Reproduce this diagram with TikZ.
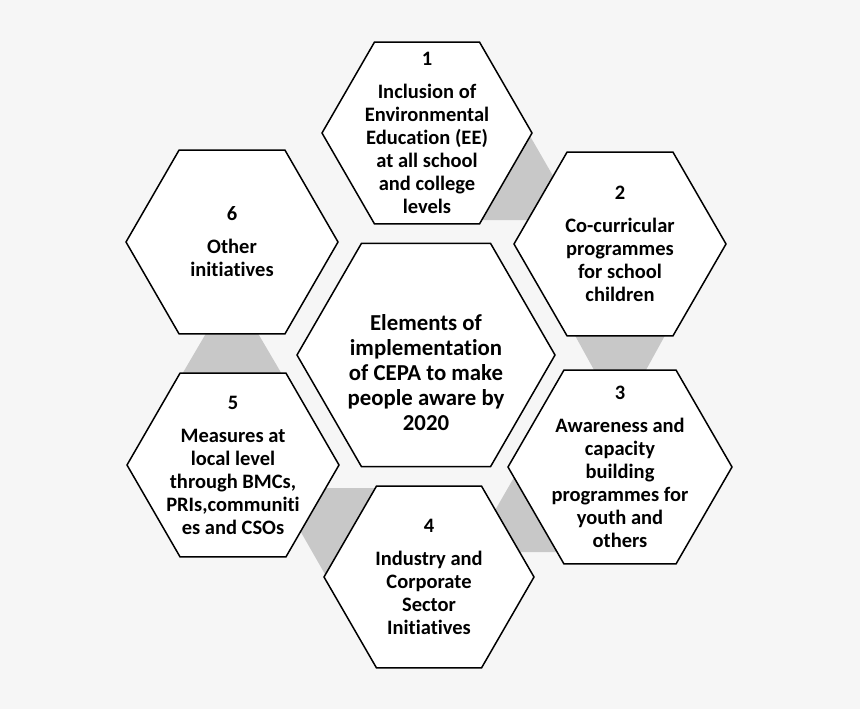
\documentclass[tikz,border=0pt]{standalone}
\usepackage{fontspec}
\setmainfont{Carlito}[Ligatures={NoCommon}]
\usetikzlibrary{shapes.geometric}
\definecolor{bg}{RGB}{246,246,246}
\definecolor{connc}{RGB}{200,200,200}
\begin{document}
\begin{tikzpicture}[x=1pt,y=-1pt,
 hexa/.style={regular polygon, regular polygon sides=6, draw=black, line width=1.5pt, fill=white, inner sep=0pt, outer sep=0pt},
 txt/.style={align=center, font=\fontsize{20.5}{23}\selectfont\bfseries, inner sep=0pt},
 ctxt/.style={align=center, font=\fontsize{22.8}{25}\selectfont\bfseries, inner sep=0pt},
 conn/.style={fill=connc, draw=none}]
\path[fill=bg] (0,0) rectangle (860,709);
\useasboundingbox (0,0) rectangle (860,709);
% connectors
\fill[conn] (530,136) -- (560,188) -- (560,220) -- (480,220) -- cycle;
\fill[conn] (572,330) -- (668,330) -- (646,370) -- (594,370) -- cycle;
\fill[conn] (208,330) -- (256,330) -- (283,376) -- (181,376) -- cycle;
\fill[conn] (290,488) -- (376,488) -- (326,576) -- (294,520) -- cycle;
\fill[conn] (516,474) -- (486,526) -- (505,552) -- (570,552) -- cycle;
% hexagons
\node[hexa, minimum size=210pt] (h1) at (427,133) {};
\node[hexa, minimum size=212pt] (h2) at (620,244) {};
\node[hexa, minimum size=224pt] (h3) at (620,467) {};
\node[hexa, minimum size=210pt] (h4) at (429,577) {};
\node[hexa, minimum size=212pt] (h5) at (233,465) {};
\node[hexa, minimum size=212pt] (h6) at (232,242) {};
\node[hexa, minimum size=258pt] (hc) at (426,355) {};
% texts
\node[txt] (t1) at (h1.center) {1\\[10pt]Inclusion of\\Environmental\\Education (EE)\\at all school\\and college\\levels};
\node[txt] (t2) at (h2.center) {2\\[10pt]Co-curricular\\programmes\\for school\\children};
\node[txt] (t3) at (h3.center) {3\\[10pt]Awareness and\\capacity\\building\\programmes for\\youth and\\others};
\node[txt] (t4) at (h4.center) {4\\[10pt]Industry and\\Corporate\\Sector\\Initiatives};
\node[txt] (t5) at (h5.center) {5\\[10pt]Measures at\\local level\\through BMCs,\\PRIs,communiti\\es and CSOs};
\node[txt] (t6) at (h6.center) {6\\[10pt]Other\\initiatives};
\node[ctxt] (tc) at (426,373) {Elements of\\implementation\\of CEPA to make\\people aware by\\2020};
\end{tikzpicture}
\end{document}
